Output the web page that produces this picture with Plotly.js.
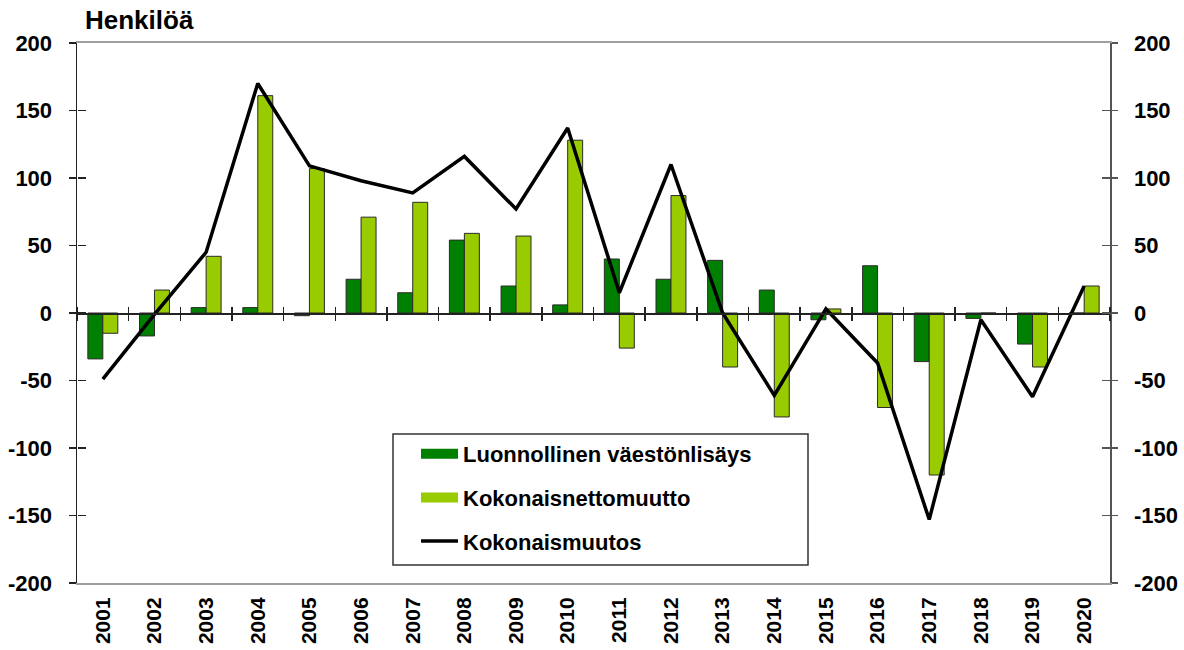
<!DOCTYPE html>
<html>
<head>
<meta charset="utf-8">
<script src="https://cdn.plot.ly/plotly-3.0.1.min.js"></script>
<style>
html, body { margin: 0; padding: 0; background: #ffffff; }
#chart { width: 1184px; height: 650px; }
</style>
</head>
<body>
<div id="chart"></div>
<script>
// ---- data ----
var years = [2001, 2002, 2003, 2004, 2005, 2006, 2007, 2008, 2009, 2010,
             2011, 2012, 2013, 2014, 2015, 2016, 2017, 2018, 2019, 2020];
var yearLabels = years.map(String);
var naturalIncrease = [-34, -17, 4, 4, -2, 25, 15, 54, 20, 6,
                       40, 25, 39, 17, -5, 35, -36, -4, -23, 0];
var netMigration = [-15, 17, 42, 161, 107, 71, 82, 59, 57, 128,
                    -26, 87, -40, -77, 3, -70, -120, 0, -40, 20];
var totalChange = [-49, -1, 45, 170, 109, 98, 89, 116, 77, 137,
                   15, 110, 0, -61, 3, -37, -153, -5, -62, 20];
var yTickVals = [-200, -150, -100, -50, 0, 50, 100, 150, 200];
var yTickText = ['-200', '-150', '-100', '-50', '0', '50', '100', '150', '200'];
var seriesNames = ['Luonnollinen väestönlisäys', 'Kokonaisnettomuutto', 'Kokonaismuutos'];
var seriesColors = ['#008000', '#99cc00', '#000000'];
var titleText = 'Henkilöä';

var FONT = 'Liberation Sans, Arial, sans-serif';

var traces = [
  {
    type: 'bar', name: seriesNames[0], x: years, y: naturalIncrease,
    marker: { color: seriesColors[0], line: { color: '#2a2a2a', width: 1 } },
    showlegend: false
  },
  {
    type: 'bar', name: seriesNames[1], x: years, y: netMigration,
    marker: { color: seriesColors[1], line: { color: '#2a2a2a', width: 1 } },
    showlegend: false
  },
  {
    type: 'scatter', mode: 'lines', name: seriesNames[2], x: years, y: totalChange,
    xaxis: 'x2', yaxis: 'y2',
    line: { color: seriesColors[2], width: 3.5 },
    showlegend: false
  },
  // legend-only entries (wide swatches like the reference); they also
  // attach the extra tick-only axes so those axes get drawn
  {
    type: 'scatter', mode: 'lines', name: seriesNames[0], x: [null], y: [null],
    xaxis: 'x3', yaxis: 'y3',
    line: { color: seriesColors[0], width: 12 }, legendgroup: 'a', hoverinfo: 'skip'
  },
  {
    type: 'scatter', mode: 'lines', name: seriesNames[1], x: [null], y: [null],
    xaxis: 'x3', yaxis: 'y4',
    line: { color: seriesColors[1], width: 12 }, legendgroup: 'b', hoverinfo: 'skip'
  },
  {
    type: 'scatter', mode: 'lines', name: seriesNames[2], x: [null], y: [null],
    xaxis: 'x3', yaxis: 'y3',
    line: { color: seriesColors[2], width: 3.5 }, legendgroup: 'c', hoverinfo: 'skip'
  }
];

var yRange = [-200, 200];
var xRange = [years[0] - 0.5, years[years.length - 1] + 0.5];
var tickFont = { family: FONT, size: 22, color: '#000000', weight: 'bold' };

// plot area in pixels: left 77, right 1110, top 43, bottom 583
function px2paperX(px) { return (px - 77) / 1033; }
function px2paperY(py) { return (583 - py) / 540; }

var layout = {
  width: 1184, height: 650,
  margin: { l: 77, r: 74, t: 43, b: 67, pad: 0 },
  paper_bgcolor: '#ffffff', plot_bgcolor: '#ffffff',
  showlegend: true,
  barmode: 'group', bargap: 0.42, bargroupgap: 0,
  title: {
    text: titleText, xref: 'container', yref: 'container',
    x: 85 / 1184, xanchor: 'left', y: 1 - 20 / 650, yanchor: 'middle',
    font: { family: FONT, size: 26, color: '#000000', weight: 'bold' }
  },
  xaxis: {
    range: xRange, type: 'linear',
    tickmode: 'array', tickvals: years, ticktext: yearLabels,
    tickangle: -90, ticks: '', ticklabelstandoff: 4,
    tickfont: { family: FONT, size: 21, color: '#000000', weight: 'bold' },
    showline: true, mirror: true, linecolor: '#a0a0a0', linewidth: 2,
    showgrid: false, zeroline: false, fixedrange: true
  },
  xaxis2: {
    range: xRange, overlaying: 'x', anchor: 'free', position: 0.5, side: 'bottom',
    type: 'linear', tickmode: 'linear', tick0: xRange[0], dtick: 1,
    ticks: 'outside', ticklen: 6, tickwidth: 1.5, tickcolor: '#222222',
    showticklabels: false, showline: true, linecolor: '#222222', linewidth: 1.5,
    showgrid: false, zeroline: false
  },
  xaxis3: {
    range: xRange, overlaying: 'x', anchor: 'free', position: 0.5, side: 'top',
    type: 'linear', tickmode: 'linear', tick0: xRange[0], dtick: 1,
    ticks: 'outside', ticklen: 6, tickwidth: 1.5, tickcolor: '#222222',
    showticklabels: false, showline: false,
    showgrid: false, zeroline: false
  },
  yaxis: {
    range: yRange, tickmode: 'array', tickvals: yTickVals, ticktext: yTickText,
    ticks: 'outside', ticklen: 7, tickwidth: 1.5, tickcolor: '#222222',
    ticklabelstandoff: 12, tickfont: tickFont,
    showline: true, linecolor: '#222222', linewidth: 1.5,
    showgrid: false, zeroline: false, fixedrange: true
  },
  yaxis2: {
    range: yRange, overlaying: 'y', side: 'right', anchor: 'x2',
    tickmode: 'array', tickvals: yTickVals, ticktext: yTickText,
    ticks: 'outside', ticklen: 6, tickwidth: 1.5, tickcolor: '#555555',
    ticklabelstandoff: 12, tickfont: tickFont,
    showline: true, linecolor: '#555555', linewidth: 1.5,
    showgrid: false, zeroline: false
  },
  yaxis3: {
    range: yRange, overlaying: 'y', side: 'left', anchor: 'free', position: 0,
    tickmode: 'array', tickvals: yTickVals,
    ticks: 'inside', ticklen: 8, tickwidth: 1.5, tickcolor: '#222222',
    showticklabels: false, showline: false, showgrid: false, zeroline: false
  },
  yaxis4: {
    range: yRange, overlaying: 'y', side: 'right', anchor: 'free', position: 1,
    tickmode: 'array', tickvals: yTickVals,
    ticks: 'inside', ticklen: 8, tickwidth: 1.5, tickcolor: '#555555',
    showticklabels: false, showline: false, showgrid: false, zeroline: false
  },
  legend: {
    x: px2paperX(416), y: px2paperY(433), xanchor: 'left', yanchor: 'top',
    bgcolor: 'rgba(0,0,0,0)', borderwidth: 0,
    font: { family: FONT, size: 22, color: '#000000', weight: 'bold' },
    traceorder: 'grouped', tracegroupgap: 12, itemwidth: 37
  },
  shapes: [
    {
      type: 'rect', xref: 'paper', yref: 'paper', layer: 'below',
      x0: px2paperX(393), x1: px2paperX(808), y0: px2paperY(565), y1: px2paperY(434),
      line: { color: '#333333', width: 1.5 }, fillcolor: '#ffffff'
    }
  ]
};

Plotly.newPlot('chart', traces, layout, { displayModeBar: false, staticPlot: true });
</script>
</body>
</html>
